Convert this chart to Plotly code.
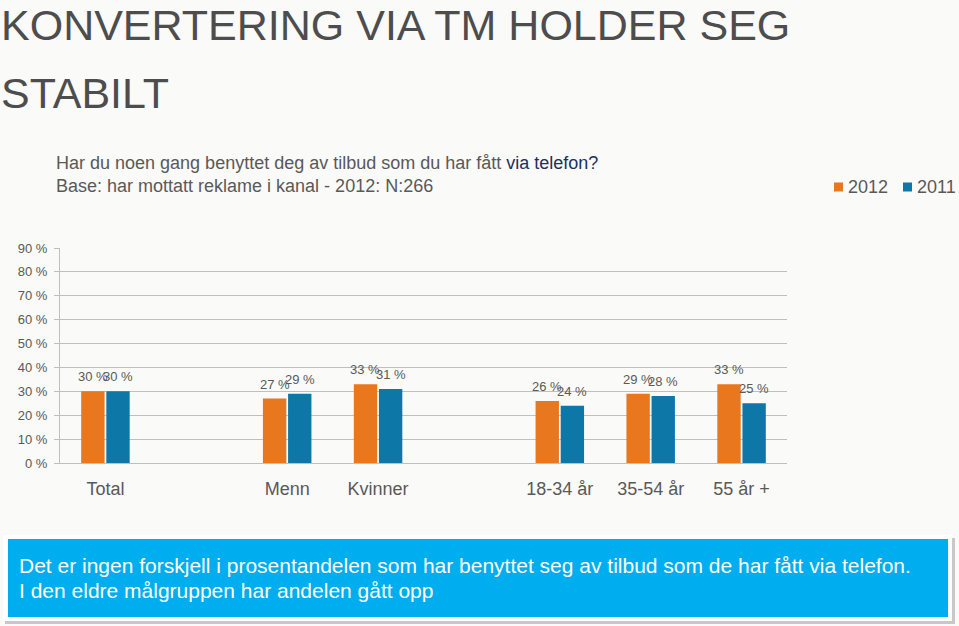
import plotly.graph_objects as go

# ---- data ----
categories = ["Total", " ", "Menn", "Kvinner", "  ", "18-34 år", "35-54 år", "55 år +"]
values_2012 = [30, None, 27, 33, None, 26, 29, 33]
values_2011 = [30, None, 29, 31, None, 24, 28, 25]
series_names = ["2012", "2011"]
y_ticks = [0, 10, 20, 30, 40, 50, 60, 70, 80, 90]

title_line1 = "KONVERTERING VIA TM HOLDER SEG"
title_line2 = "STABILT"
question = "Har du noen gang benyttet deg av tilbud som du har fått "
question_hl = "via telefon?"
base_text = "Base: har mottatt reklame i kanal - 2012: N:266"
box_line1 = "Det er ingen forskjell i prosentandelen som har benyttet seg av tilbud som de har fått via telefon."
box_line2 = "I den eldre målgruppen har andelen gått opp"

# ---- layout geometry (pixels) ----
W_PX, H_PX = 959, 626
L, R, T, B = 60, 787, 248, 463
PW, PH = R - L, B - T
BARGAP, GROUPGAP = 0.447, 0.07

def fx(px):
    return (px - L) / PW

def fy(py):
    return (B - py) / PH

ORANGE = "#E8771E"
BLUE = "#0D78A8"
GRAY_TXT = "#595959"
GRID = "#BFBFBF"
BG = "#FAFAF8"
FONT = "Liberation Sans, Arial, sans-serif"

fig = go.Figure()
series = [(series_names[0], values_2012, ORANGE), (series_names[1], values_2011, BLUE)]
for name, vals, col in series:
    fig.add_trace(go.Bar(
        x=categories, y=vals, name=name,
        marker=dict(color=col, line=dict(width=0)),
        hoverinfo="skip", showlegend=False,
    ))

# value labels above bars (positioned from the data through the category axis)
slot_px = PW / len(categories)
bar_px = slot_px * (1 - BARGAP) / len(series)
annotations = []
for i, (name, vals, col) in enumerate(series):
    offset = (i - (len(series) - 1) / 2) * bar_px
    for cat, v in zip(categories, vals):
        if v is None:
            continue
        annotations.append(dict(
            x=cat, y=v, xref="x", yref="y", text=f"{v} %", showarrow=False,
            xanchor="center", yanchor="bottom", xshift=offset, yshift=5,
            font=dict(size=13, color=GRAY_TXT, family=FONT)))

annotations += [
    dict(text=title_line1, x=fx(-1), y=fy(25), xref="paper", yref="paper", xanchor="left", yanchor="middle",
         showarrow=False, font=dict(size=43, color="#4D4D4D", family=FONT)),
    dict(text=title_line2, x=fx(-1), y=fy(93), xref="paper", yref="paper", xanchor="left", yanchor="middle",
         showarrow=False, font=dict(size=43, color="#4D4D4D", family=FONT)),
    dict(text=question + f"<span style='color:#1F2F5E'>{question_hl}</span>", x=fx(54), y=fy(163),
         xref="paper", yref="paper", xanchor="left", yanchor="middle",
         showarrow=False, font=dict(size=18, color=GRAY_TXT, family=FONT)),
    dict(text=base_text, x=fx(54), y=fy(186), xref="paper", yref="paper", xanchor="left", yanchor="middle",
         showarrow=False, font=dict(size=18, color=GRAY_TXT, family=FONT)),
    dict(text=box_line1, x=fx(17), y=fy(565), xref="paper", yref="paper", xanchor="left", yanchor="middle",
         showarrow=False, font=dict(size=21, color="white", family=FONT)),
    dict(text=box_line2, x=fx(17), y=fy(590), xref="paper", yref="paper", xanchor="left", yanchor="middle",
         showarrow=False, font=dict(size=21, color="white", family=FONT)),
]

shapes = [
    # shadow
    dict(type="rect", xref="paper", yref="paper", x0=fx(5), x1=fx(955), y0=fy(538), y1=fy(624),
         fillcolor="#C8C8C8", line=dict(width=0), layer="below"),
    # white frame
    dict(type="rect", xref="paper", yref="paper", x0=fx(3), x1=fx(952), y0=fy(535), y1=fy(621),
         fillcolor="white", line=dict(width=0), layer="below"),
    # blue box
    dict(type="rect", xref="paper", yref="paper", x0=fx(8), x1=fx(948), y0=fy(539), y1=fy(617),
         fillcolor="#00ADEE", line=dict(width=0), layer="below"),
]

# legend (drawn as key squares + labels)
legend_x = [834, 903]
for (name, vals, col), lx in zip(series, legend_x):
    shapes.append(dict(type="rect", xref="paper", yref="paper", x0=fx(lx), x1=fx(lx + 9),
                       y0=fy(191.5), y1=fy(182.5), fillcolor=col, line=dict(width=0)))
    annotations.append(dict(text=name, x=fx(lx + 12), y=fy(187), xref="paper", yref="paper",
                            xanchor="left", yanchor="middle", showarrow=False,
                            font=dict(size=18, color=GRAY_TXT, family=FONT)))

fig.update_layout(
    width=W_PX, height=H_PX,
    margin=dict(l=L, r=W_PX - R, t=T, b=H_PX - B, pad=0, autoexpand=False),
    paper_bgcolor=BG, plot_bgcolor=BG,
    barmode="group", bargap=BARGAP, bargroupgap=GROUPGAP,
    font=dict(family=FONT, color=GRAY_TXT),
    showlegend=False,
    annotations=annotations,
    shapes=shapes,
    xaxis=dict(type="category", categoryorder="array", categoryarray=categories,
               showline=True, linecolor=GRID, linewidth=1, ticks="", showgrid=False,
               tickfont=dict(size=18, color=GRAY_TXT, family=FONT), ticklabelstandoff=9,
               fixedrange=True),
    yaxis=dict(range=[0, 90], tickvals=y_ticks, ticktext=[f"{v} %" for v in y_ticks],
               showline=True, linecolor=GRID, linewidth=1, ticks="outside", ticklen=5, tickcolor=GRID,
               showgrid=True, gridcolor=GRID, gridwidth=1, zeroline=False,
               tickfont=dict(size=13, color=GRAY_TXT, family=FONT), ticklabelstandoff=4,
               fixedrange=True),
)

fig.write_html("out.html", config={"displayModeBar": False},
               post_script="document.body.style.margin='0';document.body.style.background='%s';" % BG)
